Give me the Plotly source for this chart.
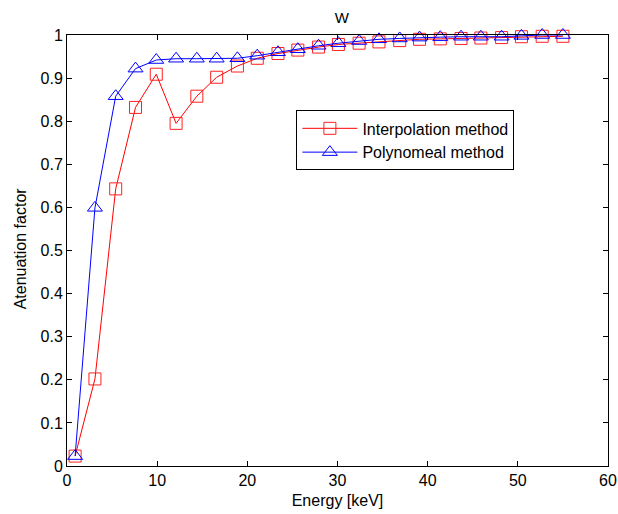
import plotly.graph_objects as go

energy = [0.9, 3.1, 5.4, 7.6, 9.9, 12.1, 14.4, 16.6, 18.9, 21.1, 23.4, 25.6, 27.9,
          30.1, 32.4, 34.6, 36.9, 39.1, 41.4, 43.7, 45.9, 48.2, 50.4, 52.7, 55.0]
interp = [0.023, 0.202, 0.643, 0.832, 0.909, 0.795, 0.858, 0.902, 0.928, 0.946,
          0.957, 0.965, 0.972, 0.978, 0.981, 0.984, 0.987, 0.99, 0.991, 0.992,
          0.993, 0.994, 0.996, 0.997, 0.997]
poly = [0.023, 0.599, 0.858, 0.922, 0.942, 0.945, 0.945, 0.945, 0.946, 0.952,
        0.96, 0.967, 0.975, 0.981, 0.986, 0.99, 0.992, 0.994, 0.995, 0.996,
        0.996, 0.996, 0.998, 1.0, 1.0]
x_ticks = [0, 10, 20, 30, 40, 50, 60]
y_ticks = [0, 0.1, 0.2, 0.3, 0.4, 0.5, 0.6, 0.7, 0.8, 0.9, 1]
y_tick_text = ["0", "0.1", "0.2", "0.3", "0.4", "0.5", "0.6", "0.7", "0.8", "0.9", "1"]

FONT = "Liberation Sans, Arial, sans-serif"

fig = go.Figure()
fig.add_trace(go.Scatter(
    x=energy, y=interp, mode="lines+markers", name="Interpolation method",
    line=dict(color="#ff0000", width=1), cliponaxis=False,
    marker=dict(symbol="square-open", size=12, color="#ff2020", line=dict(width=1)),
))
fig.add_trace(go.Scatter(
    x=energy, y=poly, mode="lines+markers", name="Polynomeal method",
    line=dict(color="#0000ff", width=1), cliponaxis=False,
    marker=dict(symbol="triangle-up-open", size=13, color="#0000ff", line=dict(width=1)),
))

axis_common = dict(
    showline=True, linecolor="black", linewidth=1, mirror="allticks",
    ticks="inside", ticklen=5, tickcolor="black", showgrid=False, zeroline=False,
    tickfont=dict(family=FONT, size=16, color="black"),
    ticklabeloverflow="allow", automargin=False,
)

L, R = 67, 10
plot_w = 618 - L - R

fig.update_layout(
    width=618, height=514,
    margin=dict(l=L, r=R, t=35, b=48),
    paper_bgcolor="white", plot_bgcolor="white",
    title=dict(text="W", x=0.553, xanchor="center", y=0.965, yanchor="middle",
               font=dict(family=FONT, size=15, color="black")),
    xaxis=dict(range=[0, 60], tickmode="array", tickvals=x_ticks,
               title=dict(text="Energy [keV]", standoff=6,
                          font=dict(family=FONT, size=16, color="black")),
               **axis_common),
    yaxis=dict(range=[0, 1], tickmode="array", tickvals=y_ticks, ticktext=y_tick_text,
               **axis_common),
    legend=dict(x=0.424, y=0.825, xanchor="left", yanchor="top",
                bordercolor="black", borderwidth=1, bgcolor="white",
                font=dict(family=FONT, size=16, color="black"),
                itemwidth=55, tracegroupgap=0),
    showlegend=True,
    annotations=[dict(text="Atenuation factor", textangle=-90,
                      xref="paper", yref="paper", x=(20 - L) / plot_w, y=0.505,
                      xanchor="center", yanchor="middle", showarrow=False,
                      font=dict(family=FONT, size=16, color="black"))],
)

fig.write_html("out.html")
